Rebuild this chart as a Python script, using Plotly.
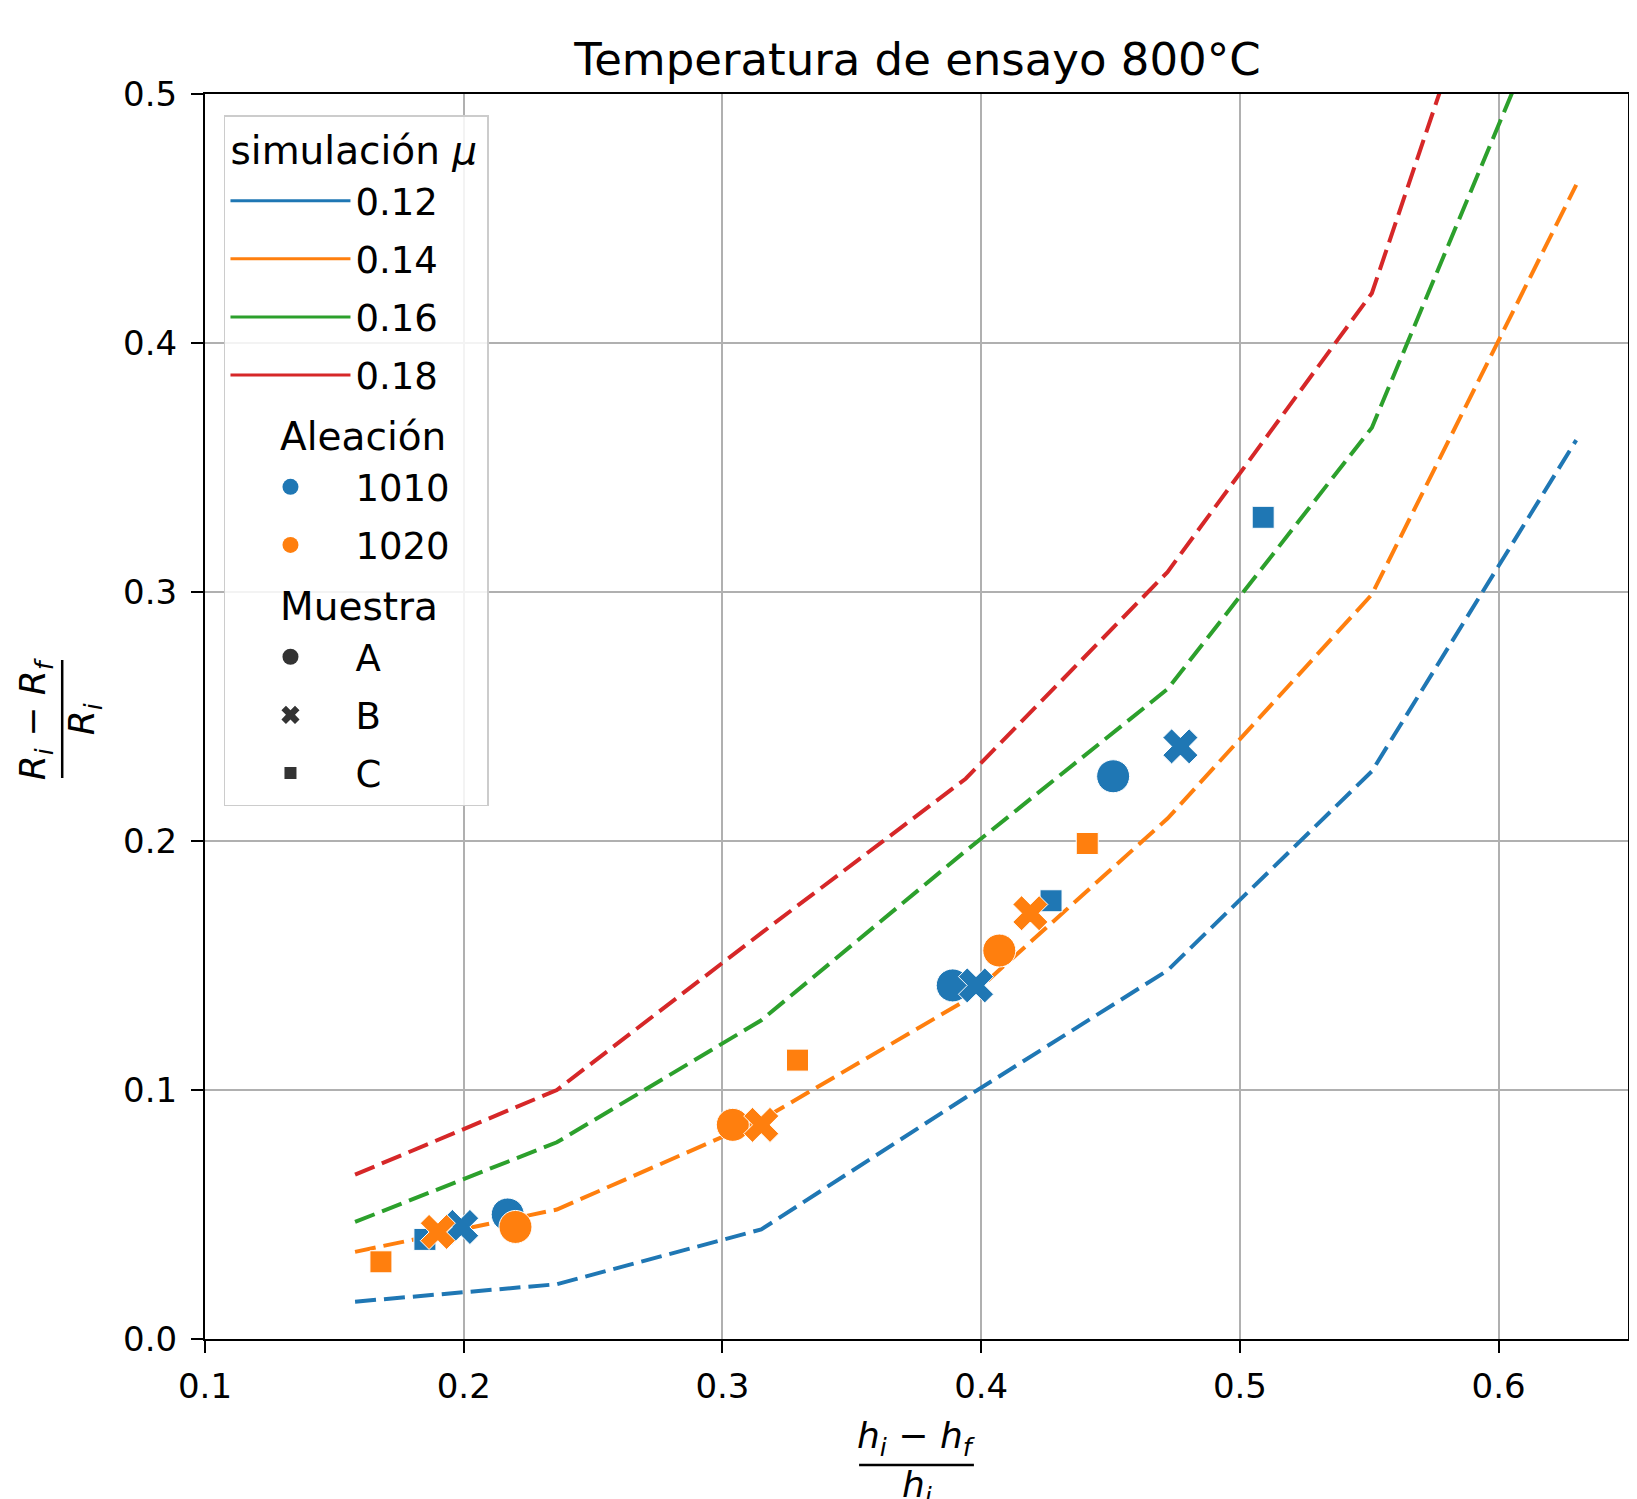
import plotly.graph_objects as go

# ---- data ----
sim_x = [0.158, 0.236, 0.315, 0.394, 0.472, 0.551, 0.630]
mu_labels = ["0.12", "0.14", "0.16", "0.18"]
mu_012 = [0.015, 0.022, 0.044, 0.097, 0.148, 0.228, 0.361]
mu_014 = [0.035, 0.052, 0.088, 0.136, 0.209, 0.299, 0.4635]
mu_016 = [0.047, 0.079, 0.128, 0.196, 0.261, 0.366, 0.562]
mu_018 = [0.066, 0.100, 0.163, 0.225, 0.308, 0.420, 0.663]

alloys = ["1010", "1020"]
samples = ["A", "B", "C"]
# 1010
a1010_x = {"A": [0.217, 0.389, 0.451], "B": [0.199, 0.398, 0.477], "C": [0.185, 0.427, 0.509]}
a1010_y = {"A": [0.050, 0.142, 0.226], "B": [0.045, 0.142, 0.238], "C": [0.040, 0.176, 0.330]}
# 1020
a1020_x = {"A": [0.220, 0.304, 0.407], "B": [0.190, 0.315, 0.419], "C": [0.168, 0.329, 0.441]}
a1020_y = {"A": [0.045, 0.086, 0.156], "B": [0.043, 0.086, 0.171], "C": [0.031, 0.112, 0.199]}

x_ticks = [0.1, 0.2, 0.3, 0.4, 0.5, 0.6]
y_ticks = [0.0, 0.1, 0.2, 0.3, 0.4, 0.5]

colors = ["#1f77b4", "#ff7f0e", "#2ca02c", "#d62728"]
alloy_colors = {"1010": "#1f77b4", "1020": "#ff7f0e"}
symbols = {"A": "circle", "B": "x", "C": "square"}
sizes = {"A": 33, "B": 31, "C": 22}

FONT = "DejaVu Sans"
NB = "\u00a0"

# ---- geometry (page pixels; the html body adds an 8px offset) ----
OFF = 8
W, H = 1637 - OFF, 1499 - OFF
L, R, T, B = 205 - OFF, 1637 - 1630, 94 - OFF, (1499 - OFF) - (1339 - OFF)
PW, PH = W - L - R, H - T - B


def px(xp):
    return (xp - OFF - L) / PW


def py(yp):
    return 1 - (yp - OFF - T) / PH


fig = go.Figure()

# simulation lines
for lab, ys, c in zip(mu_labels, [mu_012, mu_014, mu_016, mu_018], colors):
    fig.add_trace(go.Scatter(x=sim_x, y=ys, mode="lines",
                             line=dict(color=c, width=4, dash="21px,8px"),
                             showlegend=False, hoverinfo="skip"))

# data points
for alloy, dx, dy in [("1010", a1010_x, a1010_y), ("1020", a1020_x, a1020_y)]:
    for s in samples:
        fig.add_trace(go.Scatter(x=dx[s], y=dy[s], mode="markers",
                                 marker=dict(color=alloy_colors[alloy], symbol=symbols[s],
                                             size=sizes[s], line=dict(color="white", width=1)),
                                 showlegend=False))

# legend entries (each in its own group so that the group gap spaces the rows)
for i, (lab, c) in enumerate(zip(mu_labels, colors)):
    kw = dict(legendgrouptitle_text="simulación <i>μ</i>") if i == 0 else {}
    fig.add_trace(go.Scatter(x=[None], y=[None], mode="lines", name=lab,
                             line=dict(color=c, width=3), legendgroup="mu" + lab, **kw))
for i, a in enumerate(alloys):
    kw = dict(legendgrouptitle_text=NB * 4 + "Aleación") if i == 0 else {}
    fig.add_trace(go.Scatter(x=[None], y=[None], mode="markers", name=a,
                             marker=dict(color=alloy_colors[a], symbol="circle", size=16),
                             legendgroup="al" + a, **kw))
for i, s in enumerate(samples):
    kw = dict(legendgrouptitle_text=NB * 4 + "Muestra") if i == 0 else {}
    fig.add_trace(go.Scatter(x=[None], y=[None], mode="markers", name=s,
                             marker=dict(color="#333333", symbol=symbols[s], size=16 if s != "C" else 12),
                             legendgroup="sa" + s, **kw))

axis_common = dict(showgrid=True, gridcolor="#b0b0b0", gridwidth=1.5,
                   showline=True, linecolor="black", linewidth=2, mirror=True,
                   ticks="outside", ticklen=12, tickwidth=2, tickcolor="black",
                   tickfont=dict(family=FONT, size=34, color="black"), zeroline=False)

fig.update_layout(
    width=W, height=H,
    margin=dict(l=L, r=R, t=T, b=B),
    plot_bgcolor="white", paper_bgcolor="white",
    font=dict(family=FONT, color="black"),
    title=dict(text="Temperatura de ensayo 800°C", x=((205 + 1630) / 2 - OFF) / W, xanchor="center",
               y=1 - (59 - OFF) / H, yanchor="middle", font=dict(family=FONT, size=45, color="black")),
    xaxis=dict(range=[0.1, 0.65], tickvals=x_ticks, tickformat=".1f", ticklabelstandoff=4,
               **axis_common),
    yaxis=dict(range=[0.0, 0.5], tickvals=y_ticks, tickformat=".1f", ticklabelstandoff=7,
               **axis_common),
    legend=dict(x=px(224), y=py(115), xanchor="left", yanchor="top",
                bgcolor="rgba(255,255,255,0.85)", bordercolor="#cccccc", borderwidth=1.5,
                font=dict(family=FONT, size=37, color="black"),
                grouptitlefont=dict(family=FONT, size=39, color="black"),
                tracegroupgap=7, itemwidth=120),
)

# x-axis label as a fraction
fig.add_annotation(text="<i>h</i><sub><i>i</i></sub> − <i>h</i><sub><i>f</i></sub>",
                   xref="paper", yref="paper", x=px(918), y=py(1438),
                   xanchor="center", yanchor="middle", showarrow=False, font=dict(family=FONT, size=36))
fig.add_annotation(text="<i>h</i><sub><i>i</i></sub>",
                   xref="paper", yref="paper", x=px(918), y=py(1487),
                   xanchor="center", yanchor="middle", showarrow=False, font=dict(family=FONT, size=36))
fig.add_shape(type="line", xref="paper", yref="paper",
              x0=px(860), x1=px(975), y0=py(1465), y1=py(1465),
              line=dict(color="black", width=2.5))

# y-axis label as a fraction (rotated)
fig.add_annotation(text="<i>R</i><sub><i>i</i></sub> − <i>R</i><sub><i>f</i></sub>",
                   xref="paper", yref="paper", x=px(35), y=py(719),
                   xanchor="center", yanchor="middle", textangle=-90, showarrow=False,
                   font=dict(family=FONT, size=36))
fig.add_annotation(text="<i>R</i><sub><i>i</i></sub>",
                   xref="paper", yref="paper", x=px(84), y=py(719),
                   xanchor="center", yanchor="middle", textangle=-90, showarrow=False,
                   font=dict(family=FONT, size=36))
fig.add_shape(type="line", xref="paper", yref="paper",
              x0=px(62), x1=px(62), y0=py(660), y1=py(778),
              line=dict(color="black", width=2.5))

fig.write_html("out.html")
